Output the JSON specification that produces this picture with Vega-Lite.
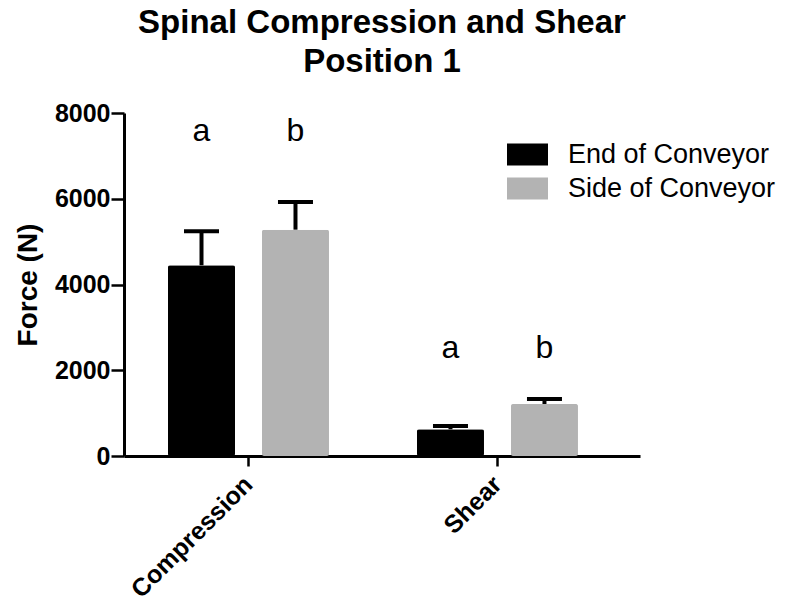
{
  "$schema": "https://vega.github.io/schema/vega-lite/v6.json",
  "autosize": "none",
  "padding": {"left": 124, "top": 113, "right": 148, "bottom": 149},
  "width": 516,
  "height": 343,
  "background": "white",
  "config": {"view": {"stroke": null}},
  "title": {
    "text": ["Spinal Compression and Shear", "Position 1"],
    "font": "Liberation Sans",
    "fontSize": 33,
    "fontWeight": "bold",
    "lineHeight": 39,
    "anchor": "middle",
    "offset": 22,
    "color": "black"
  },
  "data": {
    "values": [
      {"measure": "Compression", "location": "End of Conveyor", "force": 4449, "upper": 5240, "sig_y": 7347, "letter": "a"},
      {"measure": "Compression", "location": "Side of Conveyor", "force": 5279, "upper": 5923, "sig_y": 7347, "letter": "b"},
      {"measure": "Shear", "location": "End of Conveyor", "force": 623, "upper": 700, "sig_y": 2286, "letter": "a"},
      {"measure": "Shear", "location": "Side of Conveyor", "force": 1213, "upper": 1330, "sig_y": 2286, "letter": "b"}
    ]
  },
  "encoding": {
    "x": {
      "field": "measure",
      "type": "nominal",
      "sort": ["Compression", "Shear"],
      "scale": {"paddingInner": 0.3534, "paddingOuter": 0.2129, "align": 0.415},
      "axis": {
        "title": null,
        "labelAngle": -45,
        "labelAlign": "right",
        "labelBaseline": "middle",
        "labelFont": "Liberation Sans",
        "labelFontSize": 25,
        "labelFontWeight": "bold",
        "labelColor": "black",
        "labelPadding": 14,
        "domainColor": "black",
        "domainWidth": 3,
        "tickColor": "black",
        "tickWidth": 2.5,
        "tickSize": 10,
        "grid": false
      }
    },
    "xOffset": {
      "field": "location",
      "type": "nominal",
      "sort": ["End of Conveyor", "Side of Conveyor"],
      "scale": {"paddingInner": 0.287, "paddingOuter": 0}
    }
  },
  "layer": [
    {
      "mark": {"type": "bar", "cornerRadius": 2},
      "encoding": {
        "y": {
          "field": "force",
          "type": "quantitative",
          "scale": {"domain": [0, 8000], "nice": false},
          "axis": {
            "title": "Force (N)",
            "titleFont": "Liberation Sans",
            "titleFontSize": 28,
            "titleFontWeight": "bold",
            "titleColor": "black",
            "titlePadding": 12,
            "values": [0, 2000, 4000, 6000, 8000],
            "format": "d",
            "labelFont": "Liberation Sans",
            "labelFontSize": 25,
            "labelFontWeight": "bold",
            "labelColor": "black",
            "labelPadding": 1,
            "domainColor": "black",
            "domainWidth": 3,
            "tickColor": "black",
            "tickWidth": 2.5,
            "tickSize": 13,
            "grid": false
          }
        },
        "color": {
          "field": "location",
          "type": "nominal",
          "scale": {"domain": ["End of Conveyor", "Side of Conveyor"], "range": ["#000000", "#b3b3b3"]},
          "legend": {
            "title": null,
            "orient": "none",
            "legendX": 383,
            "legendY": 21,
            "padding": 0,
            "symbolType": "M-1,-0.537H1V0.537H-1Z",
            "symbolSize": 1681,
            "symbolStrokeWidth": 0,
            "labelFont": "Liberation Sans",
            "labelFontSize": 27,
            "labelColor": "black",
            "labelOffset": 20,
            "rowPadding": 0,
            "labelLimit": 400
          }
        }
      }
    },
    {
      "mark": {"type": "rule", "color": "black", "strokeWidth": 4},
      "encoding": {
        "y": {"field": "force", "type": "quantitative"},
        "y2": {"field": "upper"}
      }
    },
    {
      "mark": {"type": "tick", "orient": "horizontal", "color": "black", "opacity": 1, "thickness": 4, "size": 35},
      "encoding": {
        "y": {"field": "upper", "type": "quantitative"}
      }
    },
    {
      "mark": {"type": "text", "font": "Liberation Sans", "fontSize": 32, "baseline": "alphabetic", "align": "center", "color": "black"},
      "encoding": {
        "y": {"field": "sig_y", "type": "quantitative"},
        "text": {"field": "letter"}
      }
    }
  ]
}
